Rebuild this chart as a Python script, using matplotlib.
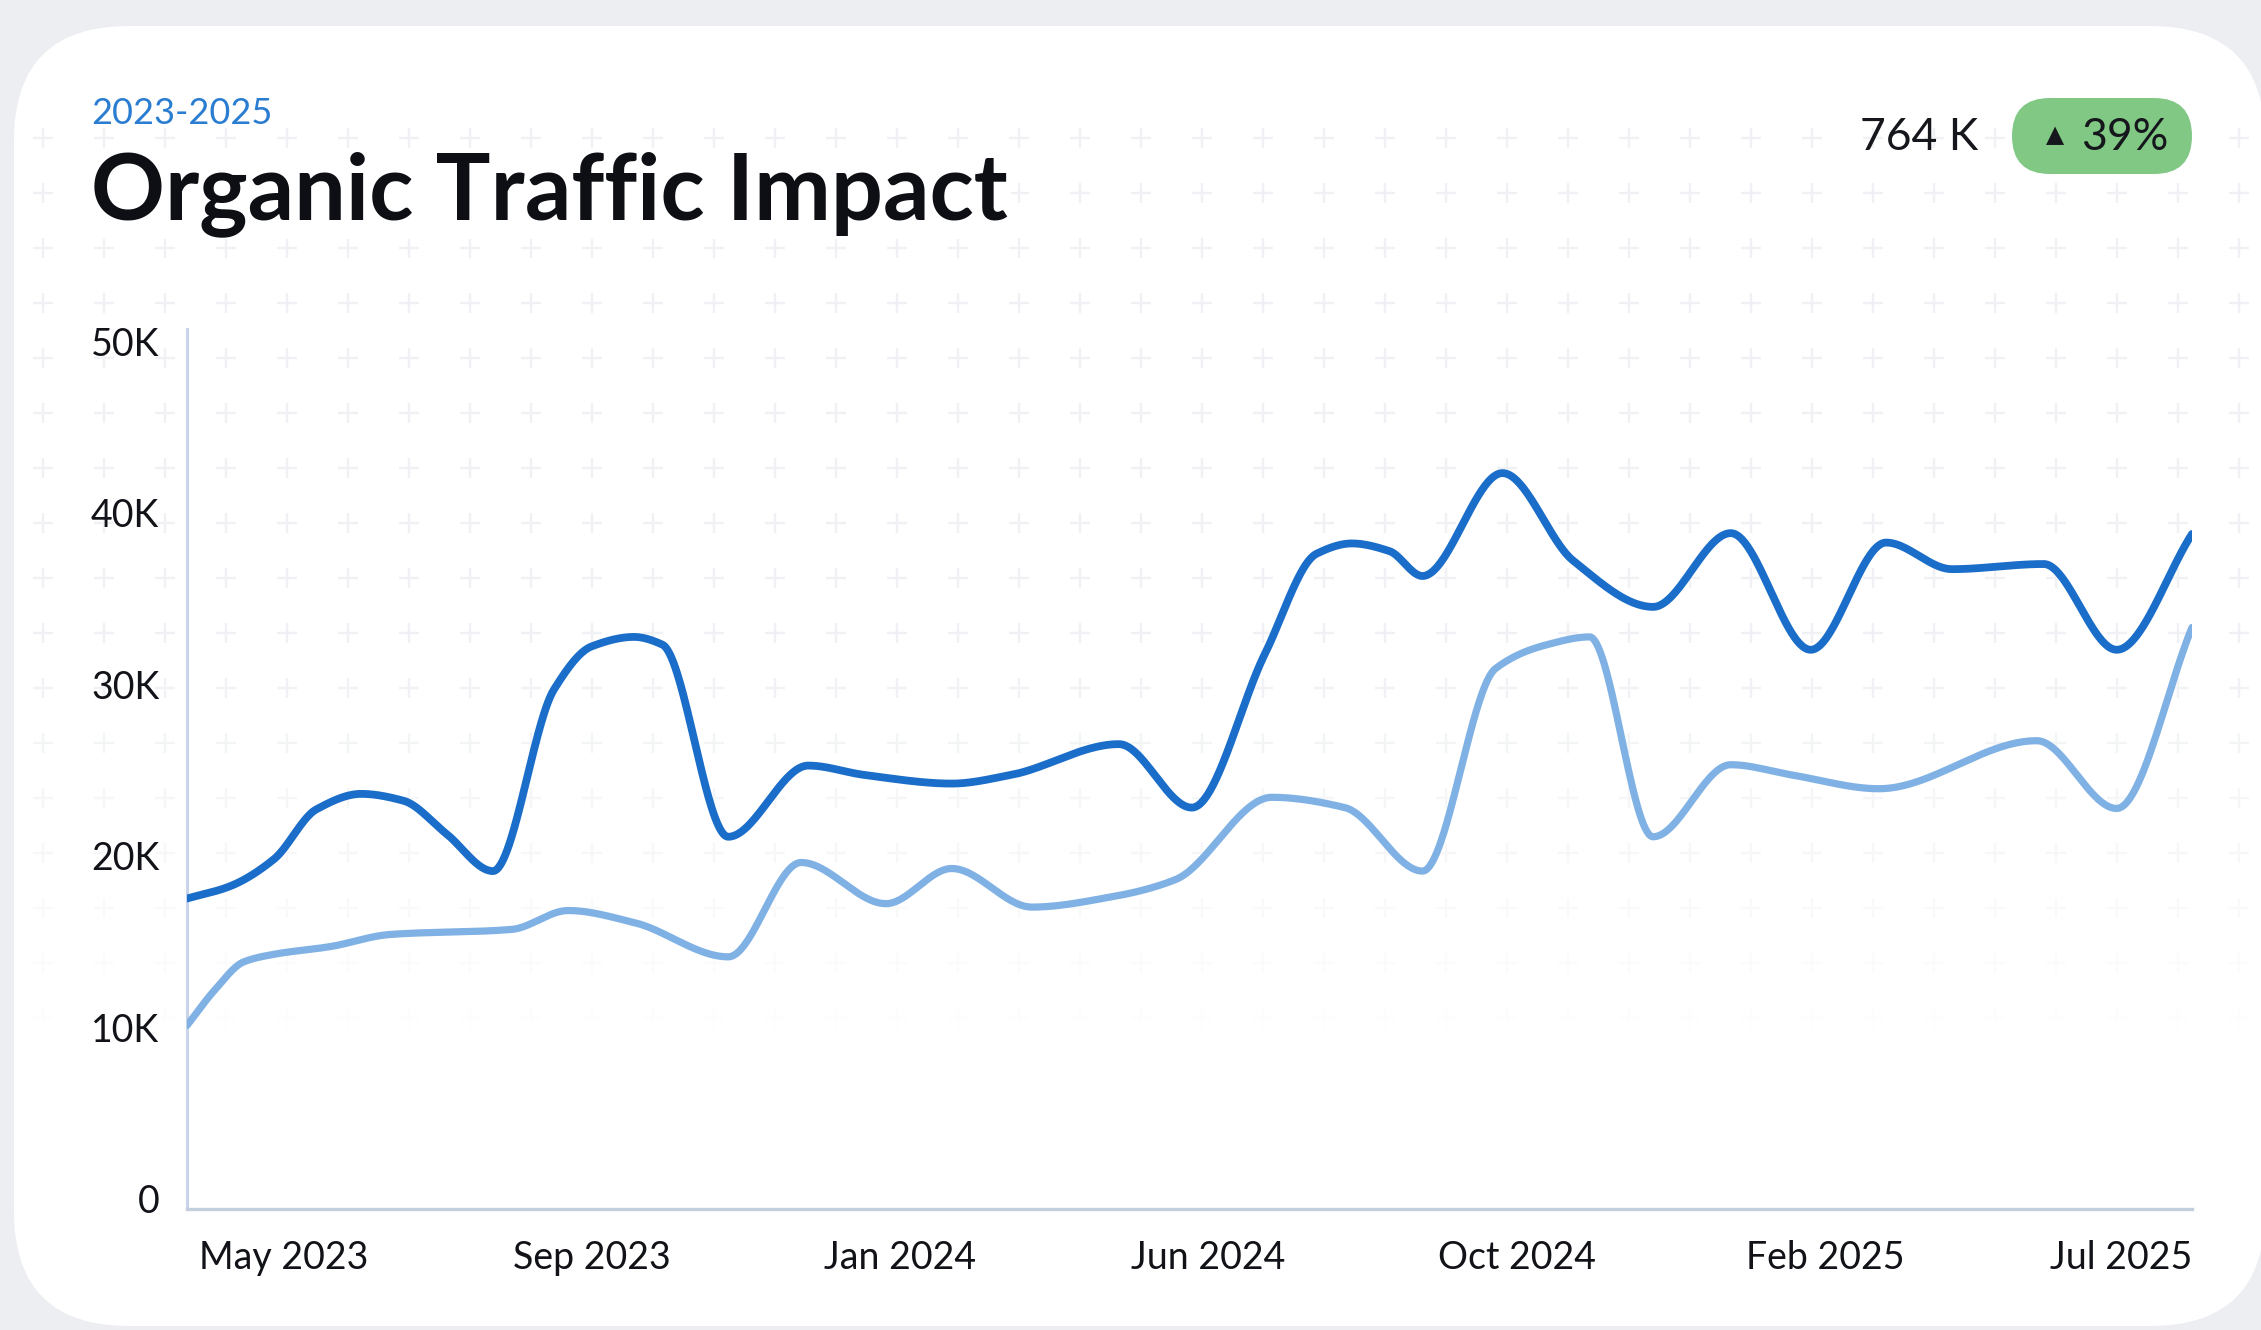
import numpy as np
import pandas as pd
import matplotlib.pyplot as plt
import matplotlib.dates as mdates
from matplotlib.patches import FancyBboxPatch
from matplotlib.transforms import ScaledTranslation

W, H = 2261, 1330

# dark series: organic traffic (K)
dark_dates = ["2023-04-01", "2023-04-19", "2023-05-08", "2023-05-26", "2023-06-14",
              "2023-07-02", "2023-07-20", "2023-08-09", "2023-09-04", "2023-09-20",
              "2023-10-08", "2023-10-20", "2023-11-17", "2023-12-21", "2024-01-14",
              "2024-02-20", "2024-03-16", "2024-05-01", "2024-06-01", "2024-07-02",
              "2024-07-24", "2024-08-08", "2024-08-24", "2024-09-07", "2024-10-11",
              "2024-11-10", "2024-12-14", "2025-01-16", "2025-02-19", "2025-03-23",
              "2025-04-20", "2025-05-29", "2025-06-29", "2025-07-31"]
dark_vals = [17.5, 18.2, 19.8, 22.7, 23.6, 23.2, 21.3, 19.1, 29.7, 32.2,
             32.75, 32.3, 21.1, 25.25, 24.7, 24.2, 24.7, 26.5, 22.8, 31.75,
             37.6, 38.2, 37.75, 36.3, 42.3, 37.2, 34.5, 38.8, 32.0, 38.25,
             36.7, 37.0, 32.0, 38.75]

# light series: previous period (K)
light_dates = ["2023-04-01", "2023-04-13", "2023-04-25", "2023-05-08", "2023-06-01",
               "2023-06-26", "2023-08-17", "2023-09-10", "2023-10-08", "2023-11-17",
               "2023-12-18", "2024-01-23", "2024-02-20", "2024-03-25", "2024-04-28",
               "2024-05-25", "2024-07-05", "2024-08-05", "2024-09-07", "2024-10-08",
               "2024-10-30", "2024-11-17", "2024-12-14", "2025-01-16", "2025-02-11",
               "2025-03-20", "2025-05-26", "2025-06-29", "2025-07-31"]
light_vals = [10.1, 12.2, 13.8, 14.25, 14.7, 15.4, 15.7, 16.8, 16.1, 14.1,
              19.6, 17.2, 19.25, 17.0, 17.6, 18.6, 23.4, 22.8, 19.1, 30.9,
              32.3, 32.75, 21.1, 25.3, 24.7, 23.9, 26.7, 22.75, 33.3]

tick_dates = ["2023-05-12", "2023-09-20", "2024-01-29", "2024-06-08",
              "2024-10-17", "2025-02-25", "2025-07-06"]
tick_labels = ["May 2023", "Sep 2023", "Jan 2024", "Jun 2024",
               "Oct 2024", "Feb 2025", "Jul 2025"]
y_ticks = [0, 10000, 20000, 30000, 40000, 50000]
y_labels = ["0", "10K", "20K", "30K", "40K", "50K"]


def pchip(x, y, xs):
    # monotone cubic (Fritsch-Carlson)
    x = np.asarray(x, float)
    y = np.asarray(y, float)
    h = np.diff(x)
    d = np.diff(y) / h
    m = np.zeros_like(y)
    m[0], m[-1] = d[0], d[-1]
    for k in range(1, len(y) - 1):
        if d[k - 1] * d[k] > 0:
            w1 = 2 * h[k] + h[k - 1]
            w2 = h[k] + 2 * h[k - 1]
            m[k] = (w1 + w2) / (w1 / d[k - 1] + w2 / d[k])
    i = np.clip(np.searchsorted(x, xs) - 1, 0, len(x) - 2)
    t = (xs - x[i]) / h[i]
    h00 = 2 * t**3 - 3 * t**2 + 1
    h10 = t**3 - 2 * t**2 + t
    h01 = -2 * t**3 + 3 * t**2
    h11 = t**3 - t**2
    return h00 * y[i] + h10 * h[i] * m[i] + h01 * y[i + 1] + h11 * h[i] * m[i + 1]


plt.rcParams['font.family'] = ['Lato', 'DejaVu Sans']

fig = plt.figure(figsize=(W / 100, H / 100), dpi=100)
fig.patch.set_facecolor('#eceef2')

# background layer in pixel coordinates
bg = fig.add_axes([0, 0, 1, 1], zorder=-2)
bg.set_xlim(0, W)
bg.set_ylim(H, 0)
bg.axis('off')
card = FancyBboxPatch((14, 26), W - 14 + 4, H - 26 - 4,
                      boxstyle="round,pad=0,rounding_size=115", fc='white', ec='none')
bg.add_patch(card)

# faint plus pattern
px = np.arange(43, W - 20, 61)
for ry in np.arange(138, 1060, 55):
    a = 1.0 if ry < 650 else max(0.0, (1060 - ry) / 410)
    if a <= 0:
        continue
    bg.scatter(px, np.full(len(px), ry), marker='+', s=200, linewidths=1.7,
               color='#f0f1f4', alpha=a)

ax = fig.add_axes([187 / W, 1 - 1209 / H, (2192 - 187) / W, (1209 - 329) / H])
ax.set_facecolor('none')

xd = mdates.date2num(pd.to_datetime(dark_dates))
xl = mdates.date2num(pd.to_datetime(light_dates))
xs = np.linspace(xd[0], xd[-1], 2000)
ax.plot(xs, pchip(xl, np.array(light_vals) * 1000, xs), color='#80b1e4', lw=5.2,
        solid_capstyle='round', zorder=3)
ax.plot(xs, pchip(xd, np.array(dark_vals) * 1000, xs), color='#1a6dc8', lw=5.6,
        solid_capstyle='round', zorder=4)

ax.set_xlim(xd[0], xd[-1])
ax.set_ylim(-600, 50700)
ax.set_xticks(mdates.date2num(pd.to_datetime(tick_dates)), labels=tick_labels)
ax.set_yticks(y_ticks, labels=y_labels)
ax.tick_params(axis='both', length=0, labelsize=27, colors='#111318')
ax.tick_params(axis='x', pad=22)
ax.tick_params(axis='y', pad=20)
# keep the last date label inside the plot edge
last = ax.get_xticklabels()[-1]
last.set_transform(last.get_transform() + ScaledTranslation(-0.12, 0, fig.dpi_scale_trans))
for s in ['top', 'right']:
    ax.spines[s].set_visible(False)
ax.spines['left'].set_color('#c9d3ea')
ax.spines['bottom'].set_color('#c3cfdd')
ax.spines['left'].set_linewidth(2.2)
ax.spines['bottom'].set_linewidth(2.4)

# header
fig.text(91 / W, 1 - 124 / H, "2023-2025", fontsize=26, color='#2a7dd0',
         va='baseline', ha='left')
fig.text(91 / W, 1 - 219 / H, "Organic Traffic Impact", fontsize=66,
         fontweight='bold', color='#0d0f14', va='baseline', ha='left',
         bbox=dict(fc='white', ec='none', pad=2))

fig.text(1978 / W, 1 - 137 / H, "764 K", fontsize=32, color='#15171c',
         va='center', ha='right')
pill = FancyBboxPatch((2012, 98), 180, 76,
                      boxstyle="round,pad=0,rounding_size=38", fc='#80c884', ec='none')
bg.add_patch(pill)
bg.text(2055, 136, "\u25B2", fontsize=17, color='#15171c', va='center', ha='center')
bg.text(2081, 138, "39%", fontsize=32, color='#15171c', va='center', ha='left')

fig.savefig('out.png', dpi=100, facecolor=fig.get_facecolor())
